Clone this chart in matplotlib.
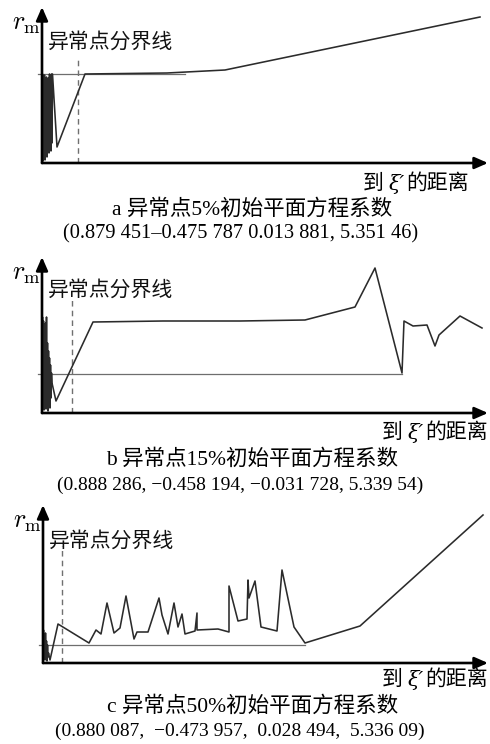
import matplotlib
matplotlib.use("Agg")
import matplotlib.pyplot as plt

plt.rcParams['mathtext.fontset'] = 'cm'
SERIF_CJK = ['Liberation Serif', 'Noto Sans CJK SC']
CJK_SANS = ['Noto Sans CJK SC', 'DejaVu Sans']

W, H = 490, 744

# ---- panel a: 5% outliers ----
dist_a = [0.00, 0.005, 0.01, 0.015, 0.02, 0.025, 0.03, 0.035, 0.04, 0.045, 0.05,
          0.055, 0.06, 0.065, 0.07, 0.075, 0.08, 0.085, 0.09, 0.095, 0.10, 0.105,
          0.15, 0.43, 1.25, 1.83, 4.38]
rm_a = [0.00, 0.89, 0.02, 0.84, 0.05, 0.88, 0.03, 0.80, 0.10, 0.86, 0.06,
        0.72, 0.14, 0.85, 0.10, 0.89, 0.18, 0.77, 0.12, 0.89, 0.20, 0.89,
        0.16, 0.89, 0.90, 0.93, 1.46]
thresh_a = 0.89
thresh_end_a = 1.43
cut_a = 0.36

# ---- panel b: 15% outliers ----
dist_b = [0.00, 0.005, 0.01, 0.015, 0.02, 0.025, 0.03, 0.035, 0.04, 0.045, 0.05,
          0.055, 0.06, 0.065, 0.07, 0.075, 0.08, 0.085, 0.09, 0.095, 0.10,
          0.14, 0.51, 1.21, 1.98, 2.63, 3.13, 3.33, 3.60, 3.62, 3.71, 3.85,
          3.93, 3.97, 4.18, 4.40]
rm_b = [0.02, 0.96, 0.05, 0.92, 0.03, 0.85, 0.10, 0.90, 0.04, 0.96, 0.08,
        0.70, 0.02, 0.62, 0.12, 0.55, 0.05, 0.48, 0.15, 0.40, 0.30,
        0.12, 0.91, 0.92, 0.92, 0.93, 1.06, 1.45, 0.40, 0.92, 0.87, 0.88,
        0.67, 0.78, 0.97, 0.85]
thresh_b = 0.39
thresh_end_b = 3.60
cut_b = 0.30

# ---- panel c: 50% outliers ----
dist_c = [0.00, 0.005, 0.01, 0.015, 0.02, 0.025, 0.03, 0.035, 0.04, 0.045, 0.05, 0.055,
          0.07, 0.15, 0.46, 0.53, 0.58, 0.64, 0.71, 0.77, 0.83, 0.91, 0.94, 1.05,
          1.16, 1.19, 1.25, 1.31, 1.35, 1.39, 1.42, 1.52, 1.54, 1.54, 1.75, 1.86,
          1.86, 1.95, 2.04, 2.05, 2.06, 2.12, 2.18, 2.34, 2.39, 2.51, 2.62, 3.17, 4.40]
rm_c = [0.02, 0.33, 0.05, 0.26, 0.03, 0.30, 0.08, 0.22, 0.02, 0.18, 0.06, 0.10,
        0.03, 0.39, 0.20, 0.33, 0.29, 0.60, 0.30, 0.35, 0.67, 0.24, 0.31, 0.31,
        0.65, 0.48, 0.29, 0.60, 0.36, 0.49, 0.29, 0.32, 0.50, 0.33, 0.34, 0.31,
        0.77, 0.42, 0.44, 0.83, 0.65, 0.82, 0.36, 0.32, 0.93, 0.36, 0.20, 0.37, 1.48]
thresh_c = 0.18
thresh_end_c = 2.62
cut_c = 0.19

captions = [
    "a 异常点5%初始平面方程系数",
    "b 异常点15%初始平面方程系数",
    "c 异常点50%初始平面方程系数",
]
coeffs = [
    "(0.879 451–0.475 787 0.013 881, 5.351 46)",
    "(0.888 286, −0.458 194, −0.031 728, 5.339 54)",
    "(0.880 087,  −0.473 957,  0.028 494,  5.336 09)",
]
coeff_sizes = [14.7, 14.0, 14.0]
xlabel_parts = ["到 ", "ξ′", "的距离"]
ylabel = r"$r_{\mathrm{m}}$"
cut_label = "异常点分界线"

fig = plt.figure(figsize=(W / 100, H / 100), dpi=100)


def fx(px):
    return px / W


def fy(py):
    return 1 - py / H


panels = [
    dict(box=(42, 163, 488, 7), xmax=4.46, ymax=1.56, x=dist_a, y=rm_a,
         th=thresh_a, th_end=thresh_end_a, cut=cut_a, cut_top=1.06,
         xl_left=363, rows=(184, 209, 234), txt_y=1.21),
    dict(box=(42, 413, 488, 257), xmax=4.46, ymax=1.56, x=dist_b, y=rm_b,
         th=thresh_b, th_end=thresh_end_b, cut=cut_b, cut_top=1.13,
         xl_left=382, rows=(433, 459, 485), txt_y=1.23),
    dict(box=(43, 663, 488, 505), xmax=4.45, ymax=1.58, x=dist_c, y=rm_c,
         th=thresh_c, th_end=thresh_end_c, cut=cut_c, cut_top=1.17,
         xl_left=382, rows=(680, 706, 731), txt_y=1.22),
]

for i, p in enumerate(panels):
    l, b, r, t = p['box']
    ax = fig.add_axes([fx(l), fy(b), (r - l) / W, (b - t) / H])
    ax.set_xlim(0, p['xmax'])
    ax.set_ylim(0, p['ymax'])
    for s in ax.spines.values():
        s.set_visible(False)
    ax.set_xticks([])
    ax.set_yticks([])
    ax.patch.set_alpha(0)

    # threshold line
    ax.plot([-0.045, p['th_end']], [p['th'], p['th']], color='#6e6e6e', lw=0.9,
            clip_on=False, zorder=2)
    # outlier boundary
    ax.plot([p['cut'], p['cut']], [0, p['cut_top']], color='#707070', lw=1.0,
            ls=(0, (4, 3)), zorder=2)
    # r_m curve
    ax.plot(p['x'], p['y'], color='#2b2b2b', lw=1.15, zorder=3, clip_on=False)

    # arrow axes
    arrow = dict(arrowstyle='-|>,head_length=0.8,head_width=0.35', color='black',
                 lw=1.9, shrinkA=0, shrinkB=0)
    ax.annotate('', xy=(1, 0), xytext=(0, 0), xycoords='axes fraction',
                textcoords='axes fraction', arrowprops=arrow, zorder=4)
    ax.annotate('', xy=(0, 1), xytext=(0, 0), xycoords='axes fraction',
                textcoords='axes fraction', arrowprops=arrow, zorder=4)

    ax.text(0.06, p['txt_y'], cut_label, fontsize=15, family=CJK_SANS,
            va='center', ha='left', color='#111111')

    fig.text(fx(l - 1), fy(t + 16), ylabel, fontsize=19, ha='right', va='center')

    # x-axis label built from pieces so the Greek letter can be italic
    t1 = fig.text(fx(p['xl_left']), fy(p['rows'][0]), xlabel_parts[0], fontsize=15,
                  family=SERIF_CJK, ha='left', va='center')
    fig.canvas.draw()
    bb = t1.get_window_extent()
    t2 = fig.text(bb.x1 / W, fy(p['rows'][0]), xlabel_parts[1], fontsize=15,
                  family=['DejaVu Serif'], style='italic', ha='left', va='center')
    fig.canvas.draw()
    bb2 = t2.get_window_extent()
    fig.text(bb2.x1 / W + 0.002, fy(p['rows'][0]), xlabel_parts[2], fontsize=15,
             family=SERIF_CJK, ha='left', va='center')

    fig.text(0.5 + 0.015, fy(p['rows'][1]), captions[i], fontsize=15.5,
             family=SERIF_CJK, ha='center', va='center')
    fig.text(0.5 - 0.01, fy(p['rows'][2]), coeffs[i], fontsize=coeff_sizes[i],
             family=SERIF_CJK, ha='center', va='center')

fig.savefig("out.png", dpi=100, facecolor='white')
